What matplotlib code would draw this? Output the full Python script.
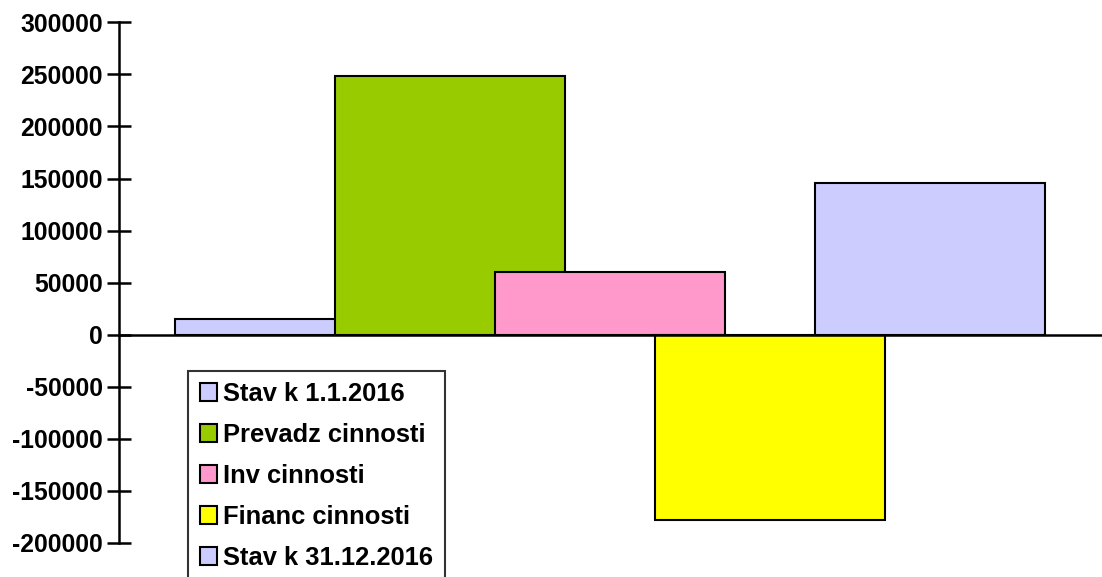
import matplotlib
matplotlib.use('Agg')
import numpy as np
import matplotlib.pyplot as plt

plt.rcParams['font.family'] = ['Liberation Sans', 'DejaVu Sans']

# series (one bar each, single category)
labels = ['Stav k 1.1.2016', 'Prevadz cinnosti', 'Inv cinnosti',
          'Financ cinnosti', 'Stav k 31.12.2016']
values = [15000, 248000, 60500, -178000, 145400]
colors = ['#CCCCFF', '#99CC00', '#FF99CC', '#FFFF00', '#CCCCFF']

y_ticks = np.arange(-200000, 300001, 50000)

W, H = 1102, 577
fig = plt.figure(figsize=(W / 100, H / 100), dpi=100)
ax = fig.add_axes([119 / W, 34 / H, 982 / W, 520.7 / H])

bar_w = 0.234
step = 0.163
for i, (lab, v, c) in enumerate(zip(labels, values, colors)):
    ax.bar((i - 2) * step, v, width=bar_w, color=c, edgecolor='black',
           linewidth=1.5, label=lab, zorder=2 + i)

ax.set_xlim(-0.5, 0.5)
ax.set_ylim(-200000, 300000)
ax.set_yticks(y_ticks)
ax.set_yticklabels([str(t) for t in y_ticks], fontsize=17.8, fontweight='bold')
ax.set_xticks([])

for s in ['top', 'right']:
    ax.spines[s].set_visible(False)
ax.spines['bottom'].set_position(('data', 0))
ax.spines['bottom'].set_linewidth(1.8)
ax.spines['bottom'].set_zorder(10)
ax.spines['left'].set_linewidth(1.8)
ax.tick_params(axis='y', direction='inout', length=17, width=1.8, pad=3)

# legend box runs off the bottom edge, like the original
leg = ax.legend(loc='upper left', bbox_to_anchor=(188 / W, 1 - 370.7 / H),
                bbox_transform=fig.transFigure, borderaxespad=0,
                prop={'size': 18.4, 'weight': 'bold'}, frameon=True,
                fancybox=False, edgecolor='black', handlelength=0.69,
                handleheight=0.69, handletextpad=0.23, borderpad=0.45,
                labelspacing=0.66)
leg.get_frame().set_linewidth(1.5)
leg.set_zorder(20)

fig.savefig('out.png', dpi=100)
